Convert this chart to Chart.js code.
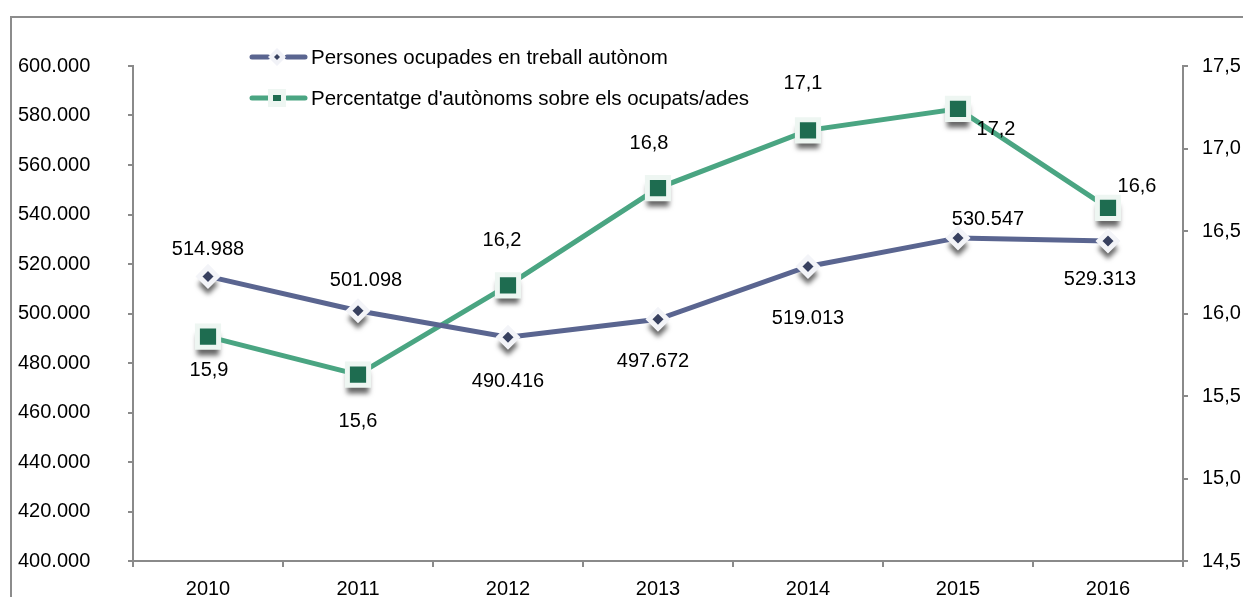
<!DOCTYPE html>
<html>
<head>
<meta charset="utf-8">
<script src="https://cdn.jsdelivr.net/npm/chart.js@4/dist/chart.umd.min.js"></script>
<style>
  html, body { margin: 0; padding: 0; background: #fff; }
  #wrap { width: 1243px; height: 597px; }
</style>
</head>
<body>
<div id="wrap"><canvas id="c" width="1243" height="597"></canvas></div>
<script>
// ---- data ----
const years = ['2010', '2011', '2012', '2013', '2014', '2015', '2016'];
const autonomousWorkers = [514988, 501098, 490416, 497672, 519013, 530547, 529313];
const autonomousShare = [15.86, 15.63, 16.17, 16.76, 17.11, 17.24, 16.64];
const workersLabel = 'Persones ocupades en treball autònom';
const shareLabel = "Percentatge d'autònoms sobre els ocupats/ades";
const leftTicks = { min: 400000, max: 600000, step: 20000 };
const rightTicks = { min: 14.5, max: 17.5, step: 0.5 };

// ---- label placement (relative offsets, styling only) ----
const workersLabelOffsets = [[0, -27], [8, -30], [0, 44], [-5, 42], [0, 52], [30, -18], [-8, 39]];
const shareLabelOffsets = [[1, 34], [0, 47], [-6, -45], [-9, -45], [-5, -47], [38, 21], [29, -21]];

const FONT = "'Liberation Sans', Arial, sans-serif";
const BLUE = '#5a6590';
const BLUE_DARK = '#37405f';
const GREEN = '#4aa582';
const GREEN_DARK = '#1e6c50';
const AXIS = '#8a8a8a';

function fmtThousands(v) {
  const s = Math.round(v).toString();
  return s.replace(/\B(?=(\d{3})+(?!\d))/g, '.');
}
function fmtComma(v) { return v.toFixed(1).replace('.', ','); }

const decorPlugin = {
  id: 'decor',
  beforeDraw(chart) {
    const ctx = chart.ctx;
    ctx.save();
    ctx.strokeStyle = '#8c8c8c';
    ctx.lineWidth = 2;
    ctx.strokeRect(11, 17, 1400, 800);
    ctx.restore();
  },
  beforeDatasetsDraw(chart) {
    const ctx = chart.ctx;
    ctx.save();
    ctx.shadowColor = 'rgba(0,0,0,0.6)';
    ctx.shadowBlur = 5;
    ctx.shadowOffsetY = 8;
    ctx.fillStyle = '#ffffff';
    chart.data.datasets.forEach((ds, di) => {
      const meta = chart.getDatasetMeta(di);
      meta.data.forEach(pt => {
        ctx.beginPath();
        if (di === 0) {
          ctx.moveTo(pt.x, pt.y - 10); ctx.lineTo(pt.x + 10, pt.y);
          ctx.lineTo(pt.x, pt.y + 10); ctx.lineTo(pt.x - 10, pt.y);
          ctx.closePath();
        } else {
          ctx.rect(pt.x - 11, pt.y - 11, 22, 22);
        }
        ctx.fill();
      });
    });
    ctx.restore();
  },
  afterDatasetsDraw(chart) {
    const ctx = chart.ctx;
    ctx.save();
    ctx.font = '20px ' + FONT;
    ctx.fillStyle = '#000';
    ctx.textAlign = 'center';
    ctx.textBaseline = 'middle';
    const m0 = chart.getDatasetMeta(0), m1 = chart.getDatasetMeta(1);
    autonomousWorkers.forEach((v, i) => {
      const p = m0.data[i], o = workersLabelOffsets[i];
      ctx.fillText(fmtThousands(v), p.x + o[0], p.y + o[1]);
    });
    autonomousShare.forEach((v, i) => {
      const p = m1.data[i], o = shareLabelOffsets[i];
      ctx.fillText(fmtComma(v), p.x + o[0], p.y + o[1]);
    });

    // legend
    const items = [
      { text: workersLabel, color: BLUE, dark: BLUE_DARK, diamond: true, y: 57 },
      { text: shareLabel, color: GREEN, dark: GREEN_DARK, diamond: false, y: 98 }
    ];
    ctx.textAlign = 'left';
    ctx.font = '20.5px ' + FONT;
    items.forEach(it => {
      ctx.strokeStyle = it.color;
      ctx.lineWidth = 5;
      ctx.lineCap = 'round';
      ctx.beginPath(); ctx.moveTo(252, it.y); ctx.lineTo(268, it.y); ctx.stroke();
      ctx.beginPath(); ctx.moveTo(287, it.y); ctx.lineTo(305, it.y); ctx.stroke();
      const cx = 277;
      ctx.fillStyle = it.diamond ? '#f1f2f7' : '#eef6f2';
      if (it.diamond) {
        ctx.beginPath(); ctx.moveTo(cx, it.y - 9); ctx.lineTo(cx + 9, it.y); ctx.lineTo(cx, it.y + 9); ctx.lineTo(cx - 9, it.y); ctx.closePath(); ctx.fill();
        ctx.fillStyle = it.dark;
        ctx.beginPath(); ctx.moveTo(cx, it.y - 3); ctx.lineTo(cx + 3, it.y); ctx.lineTo(cx, it.y + 3); ctx.lineTo(cx - 3, it.y); ctx.closePath(); ctx.fill();
      } else {
        ctx.fillRect(cx - 9, it.y - 9, 18, 18);
        ctx.fillStyle = it.dark;
        ctx.fillRect(cx - 4, it.y - 3, 8, 6);
      }
      ctx.fillStyle = '#000';
      ctx.fillText(it.text, 311, it.y + 1);
    });
    ctx.restore();
  }
};

new Chart(document.getElementById('c'), {
  type: 'line',
  data: {
    labels: years,
    datasets: [
      {
        label: workersLabel,
        data: autonomousWorkers,
        yAxisID: 'y',
        borderColor: BLUE,
        borderWidth: 5,
        pointStyle: 'rectRot',
        pointRadius: 9,
        pointBorderWidth: 5,
        pointBorderColor: '#f3f4f8',
        pointBackgroundColor: BLUE_DARK,
        tension: 0
      },
      {
        label: shareLabel,
        data: autonomousShare,
        yAxisID: 'y1',
        borderColor: GREEN,
        borderWidth: 5,
        pointStyle: 'rect',
        pointRadius: 15,
        pointBorderWidth: 5,
        pointBorderColor: '#eef6f2',
        pointBackgroundColor: GREEN_DARK,
        tension: 0
      }
    ]
  },
  options: {
    responsive: false,
    animation: false,
    layout: { padding: { left: 18, top: 66, right: 0, bottom: 0 } },
    plugins: { legend: { display: false }, tooltip: { enabled: false } },
    scales: {
      x: {
        offset: true,
        grid: { display: true, drawOnChartArea: false, offset: true, tickLength: 6, color: AXIS, lineWidth: 2 },
        border: { color: AXIS, width: 2 },
        ticks: { color: '#000', font: { family: FONT, size: 20 }, padding: 10, maxRotation: 0 },
        afterFit(s) { s.height = 36; }
      },
      y: {
        position: 'left',
        min: leftTicks.min, max: leftTicks.max,
        grid: { drawOnChartArea: false, tickLength: 5, color: AXIS, lineWidth: 2 },
        border: { color: AXIS, width: 2 },
        ticks: {
          stepSize: leftTicks.step, color: '#000', crossAlign: 'far',
          font: { family: FONT, size: 20 }, padding: 0,
          callback: v => fmtThousands(v)
        },
        afterFit(s) { s.width = 115; }
      },
      y1: {
        position: 'right',
        min: rightTicks.min, max: rightTicks.max,
        grid: { drawOnChartArea: false, tickLength: 5, color: AXIS, lineWidth: 2 },
        border: { color: AXIS, width: 2 },
        ticks: {
          stepSize: rightTicks.step, color: '#000',
          font: { family: FONT, size: 20 }, padding: 14,
          callback: v => fmtComma(v)
        },
        afterFit(s) { s.width = 60; }
      }
    }
  },
  plugins: [decorPlugin]
});
</script>
</body>
</html>
